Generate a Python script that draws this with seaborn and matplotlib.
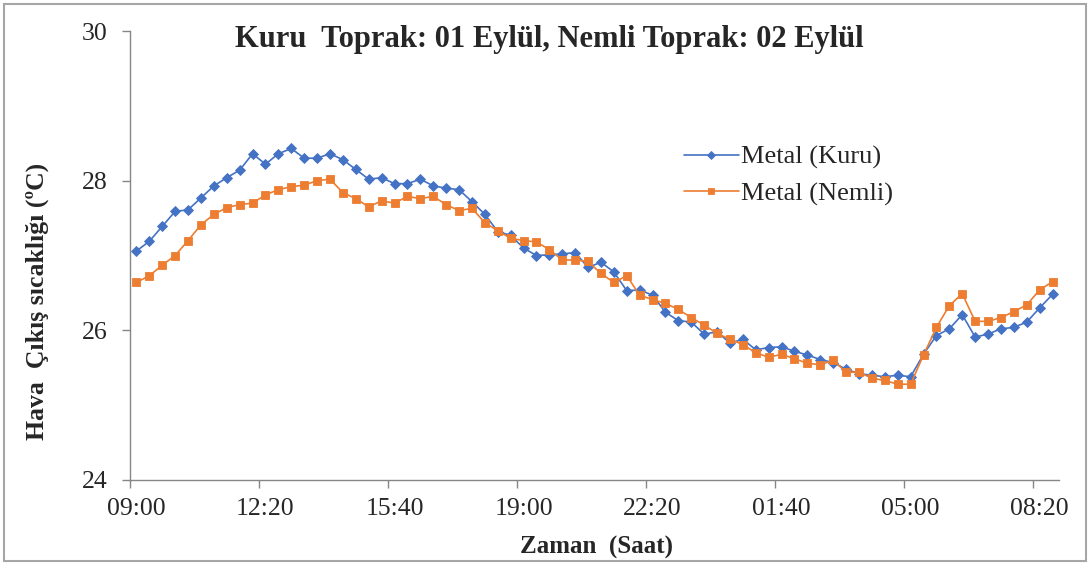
import numpy as np
import pandas as pd
import matplotlib
matplotlib.use("Agg")
import matplotlib.pyplot as plt
from matplotlib.patches import Rectangle
import seaborn as sns

# Readings every 20 minutes: 72 samples, 09:00 -> 08:40
times = pd.date_range("2000-01-01 09:00", periods=72, freq="20min").strftime("%H:%M").tolist()

metal_kuru = [
    27.06, 27.19, 27.39, 27.59, 27.61, 27.77, 27.93, 28.04, 28.14, 28.36,
    28.22, 28.36, 28.43, 28.30, 28.30, 28.36, 28.28, 28.15, 28.02, 28.04,
    27.96, 27.96, 28.02, 27.93, 27.90, 27.88, 27.72, 27.55, 27.32, 27.27,
    27.10, 27.00, 27.01, 27.02, 27.04, 26.84, 26.91, 26.78, 26.53, 26.54,
    26.47, 26.24, 26.13, 26.11, 25.95, 25.98, 25.83, 25.88, 25.74, 25.77,
    25.78, 25.72, 25.67, 25.61, 25.57, 25.48, 25.42, 25.40, 25.38, 25.40,
    25.38, 25.68, 25.93, 26.02, 26.21, 25.91, 25.95, 26.02, 26.04, 26.11,
    26.30, 26.48,
]

metal_nemli = [
    26.64, 26.73, 26.87, 27.00, 27.20, 27.41, 27.55, 27.64, 27.68, 27.70,
    27.81, 27.88, 27.92, 27.94, 28.00, 28.02, 27.84, 27.76, 27.65, 27.73,
    27.70, 27.79, 27.76, 27.79, 27.68, 27.60, 27.63, 27.44, 27.33, 27.23,
    27.20, 27.18, 27.08, 26.94, 26.94, 26.92, 26.76, 26.64, 26.73, 26.47,
    26.41, 26.36, 26.28, 26.17, 26.07, 25.96, 25.88, 25.81, 25.70, 25.64,
    25.68, 25.62, 25.56, 25.54, 25.60, 25.44, 25.44, 25.36, 25.33, 25.28,
    25.28, 25.67, 26.04, 26.33, 26.49, 26.12, 26.12, 26.17, 26.25, 26.34,
    26.54, 26.65,
]

series_names = ["Metal (Kuru)", "Metal (Nemli)"]
tick_labels = ["09:00", "12:20", "15:40", "19:00", "22:20", "01:40", "05:00", "08:20"]
y_ticks = [24, 26, 28, 30]

title = "Kuru  Toprak: 01 Eylül, Nemli Toprak: 02 Eylül"
x_title = "Zaman  (Saat)"
y_title = "Hava  Çıkış sıcaklığı (ºC)"

BLUE = "#4472C4"
ORANGE = "#ED7D31"
AXIS_GREY = "#868686"

sns.set_theme(style="white")
plt.rcParams["font.family"] = ["Liberation Serif", "DejaVu Serif"]

pos = np.arange(len(times))
df = pd.DataFrame({"pos": pos, "time": times,
                   series_names[0]: metal_kuru, series_names[1]: metal_nemli})

fig = plt.figure(figsize=(10.9, 5.65), dpi=100)
W, H = 1090, 565
ax = fig.add_axes([130 / W, 1 - 480 / H, (1059 - 130) / W, (480 - 31) / H])

sns.lineplot(data=df, x="pos", y=series_names[0], ax=ax, color=BLUE, marker="D",
             markersize=4.6, markeredgewidth=0.6, markeredgecolor=BLUE,
             linewidth=1.2, label=series_names[0])
sns.lineplot(data=df, x="pos", y=series_names[1], ax=ax, color=ORANGE, marker="s",
             markersize=5.4, markeredgewidth=0.6, markeredgecolor=ORANGE,
             linewidth=1.2, label=series_names[1])

ax.set_xlim(-0.5, len(times) - 0.5)
ax.set_ylim(y_ticks[0], y_ticks[-1])

# Category axis: tick marks between categories, labels centred on every 10th one
ax.set_xticks(np.arange(-0.5, len(times) - 1, 10))
ax.set_xticklabels([])
ax.set_xticks(pos[::10], minor=True)
ax.set_xticklabels(tick_labels, minor=True, fontsize=18.5)
ax.tick_params(axis="x", which="major", direction="out", length=6, width=1,
               color=AXIS_GREY, bottom=True)
ax.tick_params(axis="x", which="minor", length=0, pad=13, labelsize=18.5)

ax.set_yticks(y_ticks)
ax.set_yticklabels([str(v) for v in y_ticks], fontsize=18.5)
ax.tick_params(axis="y", direction="out", length=6, width=1, color=AXIS_GREY,
               left=True, pad=10)

for side in ["top", "right"]:
    ax.spines[side].set_visible(False)
for side in ["left", "bottom"]:
    ax.spines[side].set_color(AXIS_GREY)
    ax.spines[side].set_linewidth(1.0)

ax.grid(False)
ax.set_xlabel("")
ax.set_ylabel("")

fig.text(549 / W, 1 - 40 / H, title, ha="center", va="center",
         fontsize=22, fontweight="bold")
fig.text(597 / W, 1 - 547 / H, x_title, ha="center", va="center",
         fontsize=18, fontweight="bold")
fig.text(37 / W, 1 - 301 / H, y_title, ha="center", va="center",
         rotation=90, fontsize=18.5, fontweight="bold")

leg = ax.legend(loc="upper left",
                bbox_to_anchor=((673 - 130) / (1059 - 130), (480 - 135) / 449),
                frameon=False, fontsize=19, handlelength=2.1, handletextpad=0.08,
                labelspacing=0.48, borderaxespad=0, markerscale=0.8)

# Outer frame of the chart area
fig.patches.append(Rectangle((4 / W, 4 / H), (1086 - 4) / W, (561 - 4) / H,
                             transform=fig.transFigure, fill=False,
                             edgecolor="#a6a6a6", linewidth=1.5))

fig.savefig("out.png", dpi=100)
